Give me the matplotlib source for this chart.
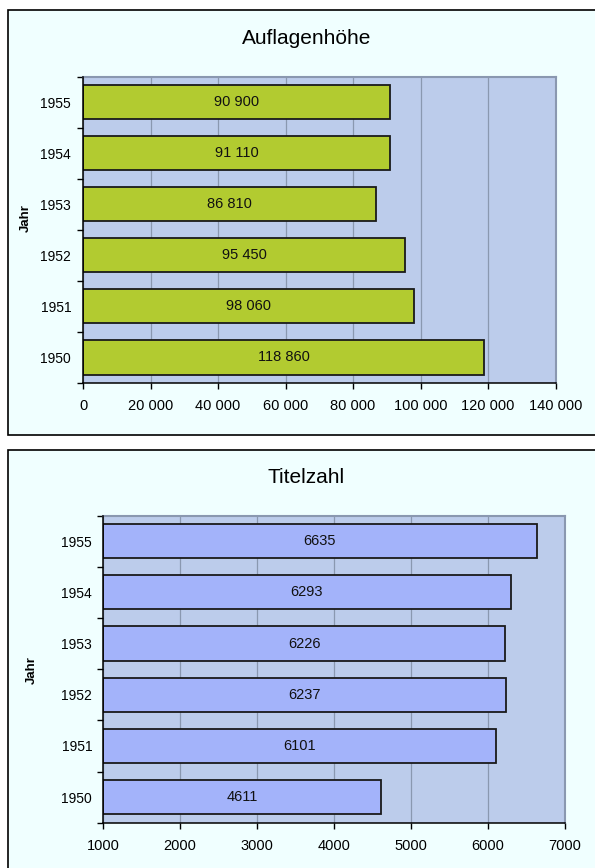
import numpy as np
import matplotlib.pyplot as plt
from matplotlib.patches import Rectangle
from matplotlib.ticker import FuncFormatter

plt.rcParams['font.family'] = ['Liberation Sans', 'DejaVu Sans']

jahre = ['1950', '1951', '1952', '1953', '1954', '1955']
auflage = [118860, 98060, 95450, 86810, 91110, 90900]
titel = [4611, 6101, 6237, 6226, 6293, 6635]

W, H = 595.0, 868.0
panel_bg = '#f0ffff'
plot_bg = '#bccceb'
grid_col = '#8a98b0'


def tausender(v, pos=None):
    # 20000 -> "20 000"
    return '{:,.0f}'.format(v).replace(',', ' ')


def panel(fig, x0, y0, x1, y1):
    # Rahmen um ein Diagramm, in Pixeln von oben links
    fig.patches.append(Rectangle((x0 / W, 1 - y1 / H), (x1 - x0) / W, (y1 - y0) / H,
                                 transform=fig.transFigure, facecolor=panel_bg,
                                 edgecolor='black', linewidth=1.2, zorder=-5))


def diagramm(fig, box, werte, xmin, xmax, step, farbe, fmt, label_x, label_y, pad_y):
    l, t, r, b = box
    ax = fig.add_axes([l / W, 1 - b / H, (r - l) / W, (b - t) / H])
    ax.set_zorder(2)
    ax.set_facecolor(plot_bg)
    y = np.arange(len(werte))
    w = np.array(werte) - xmin
    ax.barh(y, w, left=xmin, height=0.67, color=farbe, edgecolor='#1a1a1a',
            linewidth=1.3, zorder=3)
    for yi, v in zip(y, werte):
        ax.text((xmin + v) / 2, yi, fmt(v), ha='center', va='center',
                fontsize=10.5, color='#111111', zorder=4)
    ax.set_xlim(xmin, xmax)
    ax.set_ylim(-0.5, len(werte) - 0.5)
    ax.set_xticks(np.arange(xmin, xmax + 1, step))
    ax.xaxis.set_major_formatter(FuncFormatter(lambda v, p: fmt(v)))
    ax.set_yticks(y)
    ax.set_yticklabels(jahre)
    ax.set_yticks(np.arange(-0.5, len(werte), 1.0), minor=True)
    ax.tick_params(axis='y', which='major', length=0, pad=pad_y, labelsize=10)
    ax.tick_params(axis='y', which='minor', length=4, width=1, direction='out')
    ax.tick_params(axis='x', length=4.5, width=1, direction='out', pad=7, labelsize=10.5)
    ax.grid(axis='x', color=grid_col, linewidth=0.9, zorder=1)
    ax.set_axisbelow(True)
    for s in ['top', 'right']:
        ax.spines[s].set_color(grid_col)
        ax.spines[s].set_linewidth(1.5)
    for s in ['left', 'bottom']:
        ax.spines[s].set_color('black')
        ax.spines[s].set_linewidth(1.1)
        ax.spines[s].set_zorder(5)
    ax.set_ylabel('Jahr', fontsize=9.5, fontweight='bold')
    ax.yaxis.set_label_coords(label_x, label_y)
    return ax


fig = plt.figure(figsize=(W / 100, H / 100), dpi=100)
fig.patch.set_facecolor('white')

panel(fig, 8, 10, 600, 435)
panel(fig, 8, 449.5, 600, 875)

diagramm(fig, (83, 76.5, 555.5, 383), auflage, 0, 140000, 20000, '#b2cb30',
         tausender, (32 - 83) / 472.5, (383 - 218) / 306.5, 8.5)
diagramm(fig, (103, 515.5, 565, 822.7), titel, 1000, 7000, 1000, '#a3b3fa',
         lambda v: '{:.0f}'.format(v), (38 - 103) / 462, (822.7 - 670) / 307.2, 7.8)

fig.text(307 / W, 1 - 44 / H, 'Auflagenhöhe', ha='center', va='baseline', fontsize=15)
fig.text(306 / W, 1 - 483 / H, 'Titelzahl', ha='center', va='baseline', fontsize=15)

fig.savefig('out.png', dpi=100, facecolor=fig.get_facecolor())
